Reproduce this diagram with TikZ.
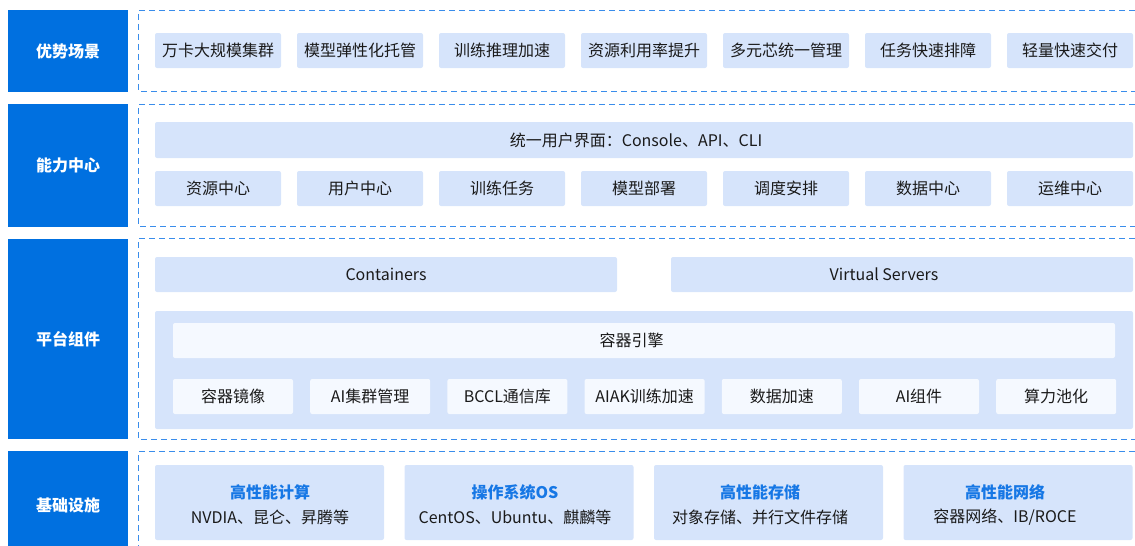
\documentclass[tikz,border=0pt]{standalone}
\usepackage{fontspec}
\setmainfont{Noto Sans CJK SC}
\definecolor{labelblue}{HTML}{0070E0}
\definecolor{itemfill}{HTML}{D6E4FB}
\definecolor{innerfill}{HTML}{F5F9FF}
\definecolor{dashblue}{HTML}{3A8DEB}
\definecolor{txt}{HTML}{1A1A1A}
\definecolor{titleblue}{HTML}{1677E5}
\tikzset{
  lbl/.style={fill=labelblue, draw=none, text=white, font=\fontsize{16}{19}\selectfont\bfseries},
  sect/.style={draw=dashblue, line width=1.1pt, dash pattern=on 6pt off 4pt},
  item/.style={fill=itemfill, draw=none, rounded corners=2pt},
  inner/.style={fill=innerfill, draw=none, rounded corners=2pt},
  itxt/.style={text=txt, font=\fontsize{16}{19}\selectfont},
  ttl/.style={text=titleblue, font=\fontsize{16}{19}\selectfont\bfseries},
}
\begin{document}
\begin{tikzpicture}[x=1pt,y=-1pt]
\useasboundingbox (0,0) rectangle (1135,546);
\clip (0,0) rectangle (1135,546);
% label boxes
\fill[lbl] (8,10) rectangle (128,92) node[midway] (l1) {优势场景};
\fill[lbl] (8,104) rectangle (128,227) node[midway] (l2) {能力中心};
\fill[lbl] (8,239) rectangle (128,439) node[midway] (l3) {平台组件};
\fill[lbl] (8,451) rectangle (128,560);
\node[lbl, fill=none] (l4) at (68,505) {基础设施};
% dashed sections
\draw[sect] (1145,10.5) -- (138.5,10.5) -- (138.5,91.5) -- (1145,91.5);
\draw[sect] (1145,104.5) -- (138.5,104.5) -- (138.5,226.5) -- (1145,226.5);
\draw[sect] (1145,238.5) -- (138.5,238.5) -- (138.5,439.5) -- (1145,439.5);
\draw[sect] (1145,451.5) -- (138.5,451.5) -- (138.5,560);
% row 1
\foreach \t [count=\i from 0] in {万卡大规模集群,模型弹性化托管,训练推理加速,资源利用率提升,多元芯统一管理,任务快速排障,轻量快速交付}{
  \fill[item] ({155+142*\i},33) rectangle ({281+142*\i},68);
  \node[itxt] (a\i) at ({218+142*\i},50.5) {\t};
}
% row 2
\fill[item] (155,122) rectangle (1133,158);
\node[itxt] (ui) at (636,140) {统一用户界面：Console、API、CLI};
\foreach \t [count=\i from 0] in {资源中心,用户中心,训练任务,模型部署,调度安排,数据中心,运维中心}{
  \fill[item] ({155+142*\i},171) rectangle ({281+142*\i},206);
  \node[itxt] (b\i) at ({218+142*\i},188.5) {\t};
}
% row 3
\fill[item] (155,257) rectangle (617,292);
\node[itxt] (cont) at (386,274.5) {Containers};
\fill[item] (671,257) rectangle (1133,292);
\node[itxt] (vs) at (884,274.5) {Virtual Servers};
\fill[item] (155,311) rectangle (1133,429);
\fill[inner] (173,323) rectangle (1115,358);
\node[itxt] (eng) at (631.5,340.5) {容器引擎};
\foreach \t [count=\i from 0] in {容器镜像,AI集群管理,BCCL通信库,AIAK训练加速,数据加速,AI组件,算力池化}{
  \fill[inner] ({173+137.2*\i},379) rectangle ({293+137.2*\i},414);
  \node[itxt] (c\i) at ({233+137.2*\i},396.5) {\t};
}
% row 4
\foreach \t/\s [count=\i from 0] in {高性能计算/{NVDIA、昆仑、昇腾等},操作系统OS/{CentOS、Ubuntu、麒麟等},高性能存储/{对象存储、并行文件存储},高性能网络/{容器网络、IB/ROCE}}{
  \fill[item] ({155+249.5*\i},465) rectangle ({384+249.5*\i},540);
  \node[ttl] (d\i) at ({270+245*\i},492) {\t};
  \node[itxt] (e\i) at ({270+245*\i},517) {\s};
}
\end{tikzpicture}
\end{document}
